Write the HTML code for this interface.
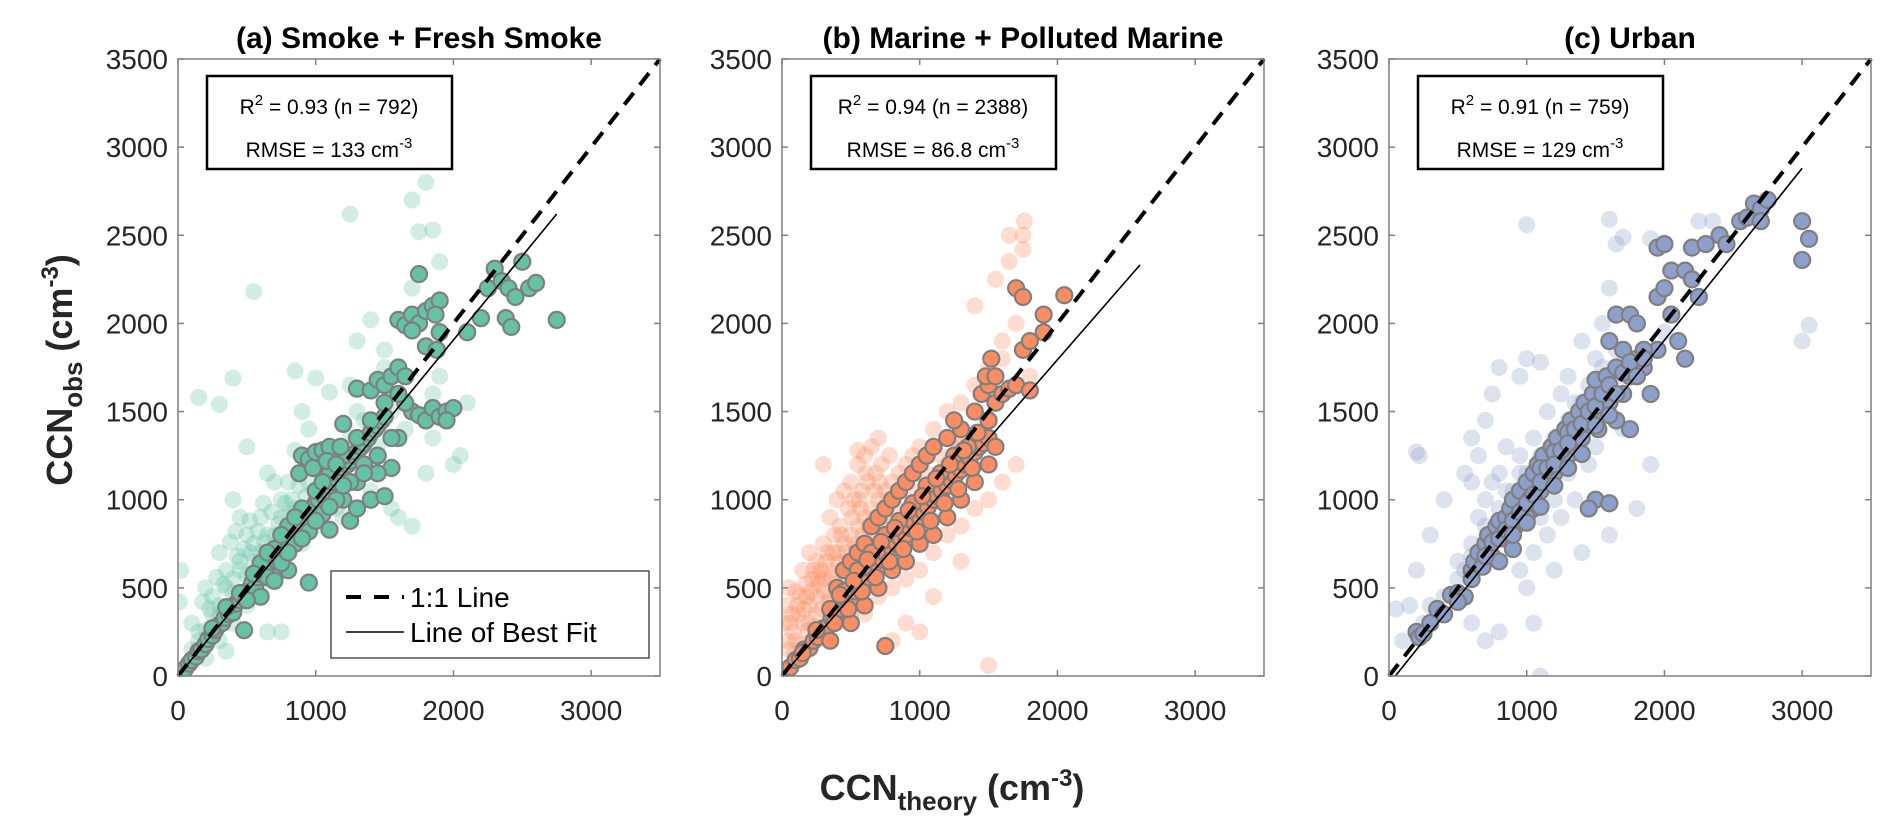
<!DOCTYPE html>
<html><head><meta charset="utf-8">
<style>
html,body{margin:0;padding:0;background:#fff;}
svg{display:block;font-family:"Liberation Sans","DejaVu Sans",sans-serif;}
</style></head>
<body>
<svg id="fig" width="1892" height="838" viewBox="0 0 1892 838" xmlns="http://www.w3.org/2000/svg">
<text x="952" y="800" text-anchor="middle" font-size="36" font-weight="bold" fill="#262626">CCN<tspan font-size="26" dy="10">theory</tspan><tspan dy="-10"> (cm</tspan><tspan font-size="24" dy="-14">-3</tspan><tspan dy="14">)</tspan></text>
<text transform="translate(72,370) rotate(-90)" text-anchor="middle" font-size="36" font-weight="bold" fill="#262626">CCN<tspan font-size="26" dy="10">obs</tspan><tspan dy="-10"> (cm</tspan><tspan font-size="24" dy="-14">-3</tspan><tspan dy="14">)</tspan></text>
</svg>
<script>
const tickValues=[0,500,1000,1500,2000,2500,3000,3500];
const xTickValues=[0,1000,2000,3000];
const panelTitles=["(a) Smoke + Fresh Smoke","(b) Marine + Polluted Marine","(c) Urban"];
const r2Values=["0.93","0.94","0.91"];
const nValues=["792","2388","759"];
const rmseValues=["133","86.8","129"];
const fitSlopes=[0.953,0.897,0.975];
const fitIntercepts=[0,0,-45];
const fitEndX=[2750,2600,3000];
const lightA=[[20,600],[10,420],[150,1580],[550,2180],[300,1540],[400,1690],[850,1730],[1000,1690],[1100,1610],[1250,1650],[1250,2620],[1500,1750],[1700,2700],[1800,2800],[1850,2950],[1750,2520],[1850,2530],[1900,2350],[1400,2020],[1300,1900],[1500,1850],[1700,2200],[2000,1200],[2100,1550],[2050,1250],[1600,900],[1700,850],[1550,950],[1800,1150],[1850,1350],[1400,1050],[900,1500],[950,1400],[1100,1200],[700,1100],[600,900],[500,1300],[400,1000],[450,900],[300,700],[200,500],[250,450],[100,300],[150,250],[350,600],[500,800],[650,1150],[750,1000],[800,1100],[850,1280],[550,750],[450,650],[700,600],[800,700],[900,750],[1000,850],[600,500],[500,400],[400,300],[300,200],[350,140],[200,100],[650,250],[750,250],[1000,1000],[1100,1050],[1200,1300],[1300,1200],[1200,900],[1150,950],[1350,1450],[1450,1300],[300,400],[350,500],[400,550],[250,350],[150,200],[100,150],[450,600],[550,650],[650,800],[750,900],[850,950],[950,1100],[1050,1150],[1150,1250],[1250,1350],[1300,1500],[1400,1200],[400,470],[300,340],[200,260],[500,570],[600,700],[700,800],[800,920],[1550,1500],[1650,1400],[1900,1700],[1850,1600],[420,820],[520,880],[620,980],[380,760],[280,560],[180,420],[480,720],[580,820],[680,930],[780,980],[880,1080],[980,1180],[230,380],[330,520],[430,680],[530,700],[630,760],[730,860],[830,1000],[930,1020]];
const darkA=[[50,40],[80,70],[100,90],[130,110],[150,140],[170,150],[200,180],[220,210],[250,230],[270,260],[300,290],[320,300],[340,330],[370,350],[390,380],[400,360],[420,410],[450,430],[470,450],[500,480],[520,490],[540,530],[560,500],[580,560],[600,580],[620,590],[650,620],[670,640],[700,680],[720,650],[740,700],[760,730],[780,760],[800,770],[820,800],[850,820],[870,850],[900,870],[920,900],[950,930],[970,940],[1000,980],[1020,1000],[1050,1030],[1080,1050],[1100,1080],[1120,1100],[1150,1120],[1180,1160],[1200,1180],[1230,1200],[1250,1220],[1280,1250],[1300,1270],[1330,1300],[1350,1320],[1380,1350],[1400,1380],[1430,1400],[1450,1420],[1480,1450],[1500,1470],[900,1250],[950,1230],[1000,1270],[1050,1280],[1100,1300],[1300,1630],[1400,1620],[1450,1680],[1500,1650],[1550,1700],[1600,1750],[1650,1700],[1200,1430],[1100,830],[1250,880],[1300,950],[1400,1000],[1500,1020],[1550,1180],[1600,1350],[1450,1150],[1350,1200],[800,600],[700,560],[600,450],[950,530],[1200,1000],[1300,1100],[480,260],[1600,2020],[1650,1990],[1700,2050],[1750,2000],[1800,2070],[1850,2100],[1900,2130],[1870,2050],[1700,1960],[1750,2280],[1800,1870],[1900,1950],[1880,1850],[1700,1500],[1750,1480],[1800,1450],[1850,1520],[1900,1470],[1950,1500],[2000,1520],[1650,1550],[1600,1600],[1950,1450],[2100,1950],[2200,2030],[2250,2200],[2300,2310],[2350,2240],[2400,2200],[2450,2150],[2500,2350],[2550,2200],[2600,2230],[2380,2030],[2420,1980],[2750,2020],[600,640],[650,560],[700,720],[750,640],[800,850],[850,750],[900,950],[950,820],[1000,1050],[1050,920],[1100,1150],[1150,1000],[1200,1250],[1250,1100],[1300,1350],[1350,1150],[1400,1450],[1450,1250],[1500,1550],[1550,1350],[880,1150],[980,1180],[1080,1220],[1180,1300],[700,540],[800,700],[900,780],[1000,880],[1100,960],[1200,1080],[550,580],[450,470],[350,390],[250,270],[500,430],[650,700],[750,800],[850,900],[1050,1100],[1150,1200]];
const lightB=[[20,300],[50,500],[100,480],[150,600],[200,700],[250,650],[300,750],[350,900],[400,1000],[450,1050],[500,1100],[550,1200],[600,1250],[650,1300],[700,1350],[300,1200],[550,1280],[100,200],[150,300],[200,400],[250,450],[300,550],[350,600],[400,700],[450,750],[500,800],[550,850],[600,900],[650,950],[700,1000],[750,1050],[800,1100],[850,1150],[900,1200],[950,1250],[1000,1300],[1100,1400],[1200,1500],[1300,1550],[1400,1650],[1500,1750],[1600,1900],[1700,2000],[1750,2500],[1760,2580],[1750,2420],[1650,2350],[1550,2250],[1400,2100],[100,100],[200,150],[300,250],[400,300],[500,350],[600,350],[700,450],[800,500],[900,550],[1000,600],[1100,700],[1200,800],[1300,850],[1400,950],[1500,1000],[1600,1100],[1700,1200],[1300,650],[1100,450],[900,300],[1000,250],[800,200],[1500,60],[1600,1800],[1800,1700],[1650,2500],[1000,1000],[1100,1100],[1200,1200],[1300,1300],[50,150],[80,250],[120,350],[180,450],[220,550],[280,600],[330,700],[380,800],[420,850],[480,950],[520,1000],[580,1050],[620,1100],[680,1150],[720,1200],[780,1250],[200,300],[250,350],[350,450],[450,550],[550,650],[650,750],[750,850],[850,950],[950,1050],[1050,1150],[1150,1250],[1250,1350],[30,400],[70,350],[130,450],[170,520],[230,600],[270,520],[320,650],[370,700],[430,800],[470,650],[530,750],[570,950],[630,850],[670,1050],[730,900],[770,1000],[60,300],[110,400],[160,380],[210,480],[260,560],[310,480],[360,560],[410,640],[460,700],[510,900],[560,1000],[610,1150],[660,880],[710,1100],[40,200],[90,120],[140,180],[190,260],[240,280],[290,380],[340,420],[390,520],[440,600],[490,620],[540,720],[590,800],[640,820],[690,900]];
const darkB=[[30,20],[60,50],[100,90],[130,100],[160,150],[200,160],[230,200],[260,220],[300,270],[330,280],[360,330],[400,350],[430,380],[460,420],[500,440],[530,480],[560,500],[600,540],[630,560],[660,600],[700,620],[730,660],[760,690],[800,720],[830,750],[860,780],[900,800],[930,840],[960,870],[1000,900],[1030,930],[1060,960],[1100,1000],[1130,1020],[1160,1050],[1200,1080],[1230,1110],[1260,1140],[1300,1170],[1330,1200],[1360,1240],[1400,1270],[1430,1300],[1460,1320],[1500,1350],[400,500],[450,600],[500,650],[550,700],[600,750],[650,850],[700,900],[750,950],[800,1000],[850,1050],[900,1100],[950,1150],[1000,1200],[1050,1250],[1100,1300],[1200,1350],[1300,1400],[1250,1450],[600,400],[700,500],[800,600],[900,650],[1000,750],[1100,800],[1200,900],[1300,1000],[1400,1100],[1500,1200],[1550,1300],[750,170],[500,300],[350,200],[1400,1500],[1450,1600],[1500,1650],[1480,1700],[1520,1800],[1550,1550],[1600,1600],[1650,1630],[1700,1650],[1800,1620],[1750,1850],[1800,1900],[1900,1950],[1700,2200],[1750,2150],[1900,2050],[2050,2160],[1500,1450],[1550,1700],[350,380],[450,480],[550,600],[650,700],[750,800],[850,880],[950,980],[1050,1080],[1150,1150],[1250,1250],[1350,1300],[380,300],[480,380],[580,480],[680,560],[780,650],[880,720],[980,820],[1080,880],[1180,980],[1280,1060],[1380,1180],[250,260],[150,130],[420,460],[520,540],[620,660],[720,760],[820,840],[920,940],[1020,1020],[1120,1120],[1220,1200],[1320,1280],[1420,1380]];
const lightC=[[50,380],[200,1270],[220,1250],[1000,2560],[1600,2590],[1700,2490],[1650,2450],[2250,2580],[2350,2580],[1900,2480],[1600,2200],[1550,2000],[1500,1800],[1400,1900],[1300,1700],[1100,1780],[1000,1800],[800,1750],[950,1700],[750,1600],[700,1450],[600,1350],[650,1250],[550,1150],[600,1100],[400,1000],[300,800],[200,600],[150,400],[100,200],[1050,300],[1100,0],[700,200],[600,300],[800,250],[1000,500],[1200,600],[1400,700],[1600,800],[1800,950],[1900,1200],[2000,1950],[3000,1900],[3050,1990],[1300,1150],[1200,1000],[1100,900],[900,800],[700,650],[500,550],[400,450],[300,400],[250,300],[1500,1600],[1600,1650],[1700,1700],[1800,1750],[1400,1550],[1300,1450],[1200,1350],[1100,1250],[1000,1150],[900,1050],[800,950],[700,850],[600,750],[500,650],[850,1300],[950,1250],[1050,1350],[1150,1500],[1250,1600],[700,1000],[800,1150],[1450,1200],[1350,1000],[1250,900],[1150,800],[1050,700],[950,600],[1500,1300],[1700,1400],[650,900],[750,1100],[850,1050],[950,1150],[1050,1050],[1150,1150],[1250,1250],[1350,1350],[1450,1450],[900,900],[1000,950],[1100,1050],[1200,1150],[1300,1250],[1400,1400],[800,850],[700,780],[600,680],[550,600],[1350,1550],[1450,1650],[1550,1750],[1650,1850]];
const darkC=[[200,250],[220,220],[250,240],[300,300],[350,380],[400,350],[450,460],[500,470],[550,450],[600,600],[620,650],[650,700],[680,620],[700,750],[720,800],[750,680],[780,850],[800,880],[830,780],[850,900],[880,950],[900,1000],[920,850],[950,1050],[980,950],[1000,1100],[1020,1000],[1050,1150],[1080,1200],[1100,1050],[1120,1250],[1150,1100],[1180,1300],[1200,1150],[1220,1350],[1250,1200],[1280,1400],[1300,1250],[1320,1450],[1350,1300],[1380,1500],[1400,1350],[1420,1550],[1450,1450],[1480,1600],[1500,1680],[1520,1400],[1550,1500],[1580,1700],[1600,1550],[1650,1750],[1700,1600],[1750,1700],[1800,1800],[1850,1750],[1900,1600],[1500,1000],[1450,950],[1600,980],[1750,1400],[1650,1450],[1950,1850],[1700,1850],[1850,1850],[1600,1900],[1650,2050],[1750,2050],[1800,2000],[1950,2150],[2000,2200],[2050,2300],[2150,2300],[2200,2250],[2250,2150],[2200,2430],[2300,2450],[2400,2500],[2450,2450],[2100,1900],[2150,1800],[2050,2050],[1950,2430],[2000,2450],[2550,2580],[2600,2600],[2650,2680],[2700,2650],[2750,2700],[2700,2580],[3000,2360],[3050,2480],[3000,2580],[1050,950],[900,720],[800,650],[600,550],[500,420],[1100,1180],[1300,1380],[1200,1270],[950,880],[1000,900],[700,680],[750,760],[800,780],[850,830],[900,880],[950,930],[1000,980],[1050,1030],[1100,1100],[1150,1180],[1200,1200],[1250,1280],[1300,1320],[1350,1400],[1400,1430],[1450,1500],[1500,1530],[1550,1600],[1600,1650],[1650,1600],[1700,1720],[1750,1780],[1800,1700],[1850,1800],[900,800],[1000,870],[1100,960],[1200,1080],[1300,1180],[1400,1260],[1500,1420],[1600,1480]];

const NS="http://www.w3.org/2000/svg";
const svg=document.getElementById('fig');
const panelLeft=[178,782,1389], PW=482, PT=59, PB=676, DMAX=3500;
const lightSets=[lightA,lightB,lightC], darkSets=[darkA,darkB,darkC];
const fills=["#66c2a5","#fc8d62","#8da0cb"];
function mk(tag,attrs,parent){const e=document.createElementNS(NS,tag);for(const k in attrs)e.setAttribute(k,attrs[k]);(parent||svg).appendChild(e);return e;}
for(let p=0;p<3;p++){
  const L=panelLeft[p];
  const sx=v=>L+v/DMAX*PW, sy=v=>PB-v/DMAX*(PB-PT);
  const g=mk('g',{});
  
  
  const clipId='clip'+p;
  const cp=mk('clipPath',{id:clipId},g);mk('rect',{x:L,y:PT,width:PW,height:PB-PT},cp);
  const t=mk('text',{x:L+PW/2,y:48,'text-anchor':'middle','font-size':30,'font-weight':'bold',fill:'#000'},g);
  t.textContent=panelTitles[p];
  
  
  const pts=mk('g',{'clip-path':'url(#'+clipId+')'},g);
  
  
  lightSets[p].forEach(d=>{const c=mk('circle',{cx:sx(d[0]),cy:sy(d[1]),r:8.5,fill:fills[p],'fill-opacity':0.3},pts);
    
    });
  darkSets[p].forEach(d=>{const c=mk('circle',{cx:sx(d[0]),cy:sy(d[1]),r:8,fill:fills[p],stroke:'#7f7f7f','stroke-width':2.2},pts);
    
    });
  const one=mk('line',{x1:sx(0),y1:sy(0),x2:sx(DMAX),y2:sy(DMAX),stroke:'#000','stroke-width':4,'stroke-dasharray':'15 10'},g);
  
  
  const x0=Math.max(0,-fitIntercepts[p]/fitSlopes[p]);
  const fit=mk('line',{x1:sx(x0),y1:sy(fitSlopes[p]*x0+fitIntercepts[p]),x2:sx(fitEndX[p]),y2:sy(fitSlopes[p]*fitEndX[p]+fitIntercepts[p]),stroke:'#000','stroke-width':1.6},g);
  
  
  const box=mk('rect',{x:L,y:PT,width:PW,height:PB-PT,fill:'none',stroke:'#808080','stroke-width':1.5},g);
  
  
  tickValues.forEach(v=>{
    mk('line',{x1:L,y1:sy(v),x2:L+6,y2:sy(v),stroke:'#808080','stroke-width':1.5},g);
    mk('line',{x1:L+PW,y1:sy(v),x2:L+PW-6,y2:sy(v),stroke:'#808080','stroke-width':1.5},g);
    const tl=mk('text',{x:L-10,y:sy(v)+10,'text-anchor':'end','font-size':28,fill:'#262626'},g);
    tl.textContent=v;
    
    
  });
  xTickValues.forEach(v=>{
    mk('line',{x1:sx(v),y1:PB,x2:sx(v),y2:PB-6,stroke:'#808080','stroke-width':1.5},g);
    mk('line',{x1:sx(v),y1:PT,x2:sx(v),y2:PT+6,stroke:'#808080','stroke-width':1.5},g);
    const tl=mk('text',{x:sx(v),y:720,'text-anchor':'middle','font-size':28,fill:'#262626'},g);
    tl.textContent=v;
    
    
  });
  const sb=mk('g',{},g);
  
  
  mk('rect',{x:L+29,y:76,width:245,height:93,fill:'#fff',stroke:'#000','stroke-width':2.5},sb);
  const l1=mk('text',{x:L+151,y:114,'text-anchor':'middle','font-size':21,fill:'#000'},sb);
  l1.innerHTML='R<tspan font-size="15" dy="-9">2</tspan><tspan dy="9"> = '+r2Values[p]+' (n = '+nValues[p]+')</tspan>';
  const l2=mk('text',{x:L+151,y:157,'text-anchor':'middle','font-size':21,fill:'#000'},sb);
  l2.innerHTML='RMSE = '+rmseValues[p]+' cm<tspan font-size="15" dy="-9">-3</tspan>';
}
const lg=mk('g',{});


mk('rect',{x:331,y:571,width:318,height:87,fill:'#fff',stroke:'#262626','stroke-width':1.2},lg);
mk('line',{x1:346,y1:597,x2:404,y2:597,stroke:'#000','stroke-width':4,'stroke-dasharray':'15 13'},lg);
mk('line',{x1:346,y1:632,x2:404,y2:632,stroke:'#000','stroke-width':1.6},lg);
const le1=mk('text',{x:410,y:607,'font-size':28,fill:'#000'},lg);le1.textContent='1:1 Line';


const le2=mk('text',{x:410,y:642,'font-size':28,fill:'#000'},lg);le2.textContent='Line of Best Fit';


</script>
</body></html>
